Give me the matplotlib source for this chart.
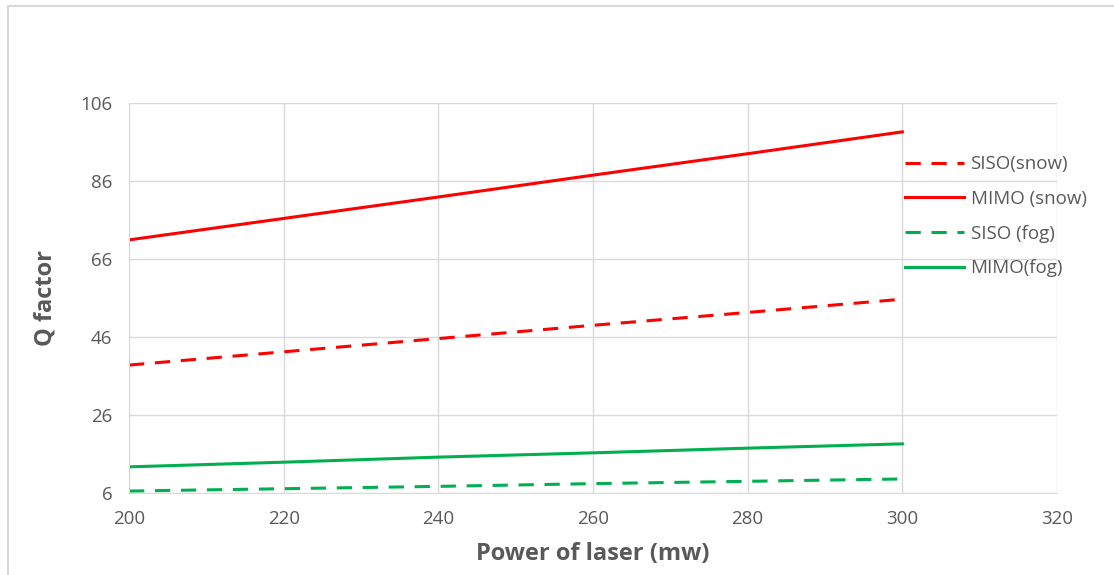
import matplotlib
matplotlib.use("Agg")
import matplotlib.pyplot as plt
from matplotlib.lines import Line2D

# data
power = [200, 220, 240, 260, 280, 300]
siso_snow = [38.8, 42.2, 45.6, 49.0, 52.3, 55.7]
mimo_snow = [70.9, 76.4, 81.9, 87.5, 93.0, 98.6]
siso_fog = [6.5, 7.1, 7.7, 8.4, 9.0, 9.6]
mimo_fog = [12.7, 13.9, 15.2, 16.3, 17.5, 18.6]

x_ticks = [200, 220, 240, 260, 280, 300, 320]
y_ticks = [6, 26, 46, 66, 86, 106]

red = "#ff0000"
green = "#00b050"
grey_text = "#595959"
grid_col = "#d9d9d9"

plt.rcParams["font.family"] = ["Open Sans", "DejaVu Sans"]

fig = plt.figure(figsize=(11.14, 5.75), dpi=100)
ax = fig.add_axes([129 / 1114, 1 - 493 / 575, (1057 - 129) / 1114, (493 - 103) / 575])

ax.plot(power, siso_snow, color=red, lw=2.2, dashes=(5, 3.5), label="SISO(snow)")
ax.plot(power, mimo_snow, color=red, lw=2.2, label="MIMO (snow)")
ax.plot(power, siso_fog, color=green, lw=2.2, dashes=(5, 3.5), label="SISO (fog)")
ax.plot(power, mimo_fog, color=green, lw=2.2, label="MIMO(fog)")

ax.set_xlim(200, 320)
ax.set_ylim(6, 106)
ax.set_xticks(x_ticks)
ax.set_yticks(y_ticks)
ax.grid(True, color=grid_col, lw=1)
ax.set_axisbelow(True)
for side in ["top", "right"]:
    ax.spines[side].set_visible(False)
for side in ["left", "bottom"]:
    ax.spines[side].set_color(grid_col)
ax.tick_params(length=0, labelsize=13.5, colors=grey_text, pad=12)

ax.set_xlabel("Power of laser (mw)", fontsize=17, fontweight="bold", color=grey_text,
              labelpad=10)
ax.set_ylabel("Q factor", fontsize=17, fontweight="bold", color=grey_text,
              labelpad=16)

leg = ax.legend(loc="upper left", bbox_to_anchor=(0.8185, 0.909), frameon=False,
                handlelength=3.1, labelspacing=0.89, handletextpad=0.37,
                prop={"size": 13.5})
for t in leg.get_texts():
    t.set_color(grey_text)

# outer chart frame (top and left edges)
fig.add_artist(Line2D([8 / 1114, 8 / 1114], [0, 1 - 6 / 575], color=grid_col, lw=1.5))
fig.add_artist(Line2D([8 / 1114, 1], [1 - 6 / 575, 1 - 6 / 575], color=grid_col, lw=1.5))

fig.savefig("out.png", dpi=100)
